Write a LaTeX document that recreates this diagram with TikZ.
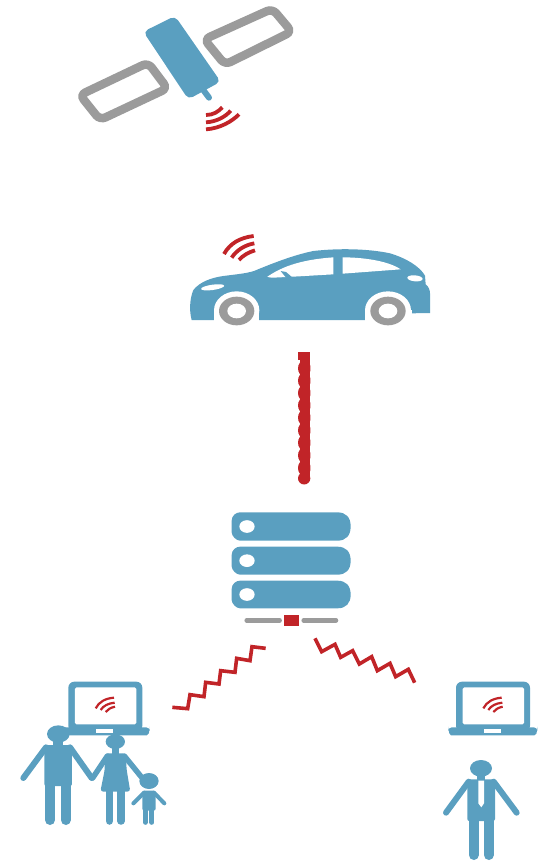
\documentclass[tikz,border=0pt]{standalone}
\definecolor{bl}{HTML}{5A9FC0}
\definecolor{rd}{HTML}{C12428}
\definecolor{gy}{HTML}{9B9B9B}
\tikzset{
 zone/.style 2 args={shift={(#1,#2)},scale=0.33333},
 wifi/.style={draw=rd,line width=3.8pt},
 wifismall/.style={draw=rd,line width=2.2pt},
 zig/.style={draw=rd,line width=3.6pt,line join=miter},
 limb/.style={draw=bl,line cap=round,line width=#1},
 panel/.style={draw=gy,line width=8.5pt,rounded corners=6pt},
}
\newcommand{\laptopat}[2]{%
 \begin{scope}[zone={#1}{#2}]
  \fill[bl,rounded corners=6pt] (0,0) rectangle (222,150);
  \fill[white,rounded corners=1.5pt] (20,17) rectangle (204,128);
  \fill[bl,rounded corners=3.5pt] (-23,137) -- (244,137) -- (244,145) .. controls (240,161) and (230,161) .. (225,161) -- (-5,161) .. controls (-15,161) and (-20,155) .. (-23,145) -- cycle;
  \fill[white] (84,142) rectangle (135,154);
  \draw[wifismall] (82,80) .. controls (92,60) and (112,50) .. (137,48);
  \draw[wifismall] (97,85) .. controls (105,72) and (120,65) .. (139,63);
  \draw[wifismall] (112,91) .. controls (118,83) and (127,78) .. (140,75);
 \end{scope}}
\begin{document}
\begin{tikzpicture}[x=1pt,y=-1pt]
\useasboundingbox (0,0) rectangle (547,862);
% satellite
\begin{scope}[zone={60}{0}]
 \draw[panel] (60,285) -- (264,188) -- (322,265) -- (120,360) -- cycle;
 \draw[panel] (433,118) -- (637,26) -- (695,95) -- (495,194) -- cycle;
 \draw[limb=6pt] (430,270) -- (447,293);
 \fill[bl,rounded corners=5pt] (250,95) -- (345,48) -- (482,245) -- (385,298) -- cycle;
 \draw[wifi] (438,345) .. controls (460,345) and (475,335) .. (487,322);
 \draw[wifi] (438,367) .. controls (470,365) and (497,350) .. (512,332);
 \draw[wifi] (438,388) .. controls (480,385) and (515,365) .. (537,343);
\end{scope}
% car
\begin{scope}[zone={180}{225}]
 \fill[bl] (35,285) .. controls (28,260) and (28,225) .. (40,195)
   .. controls (60,170) and (95,158) .. (130,153)
   .. controls (170,148) and (200,145) .. (222,138)
   .. controls (270,118) and (340,90) .. (400,78)
   .. controls (470,70) and (560,70) .. (630,85)
   .. controls (680,100) and (720,125) .. (735,152)
   -- (737,178) .. controls (745,183) and (750,195) .. (750,205)
   -- (750,264) -- (693,265) -- (693,285) -- cycle;
 \fill[white] (170,256) ellipse [x radius=68,y radius=57];
 \fill[white] (624,256) ellipse [x radius=69,y radius=57];
 \fill[white] (102,256) rectangle (238,290);
 \fill[white] (555,256) rectangle (696,290);
 \fill[gy] (170,258) ellipse [x radius=53,y radius=43];
 \fill[white] (170,258) ellipse [x radius=28,y radius=22];
 \fill[gy] (624,258) ellipse [x radius=53,y radius=43];
 \fill[white] (624,258) ellipse [x radius=28,y radius=22];
 \fill[white] (262,155) .. controls (300,130) and (350,105) .. (460,97) -- (460,148) -- (340,155) -- (280,158) .. controls (270,158) and (265,157) .. (262,155) -- cycle;
 \fill[bl] (302,138) -- (318,141) -- (337,157) -- (318,158) -- cycle;
 \fill[white] (488,97) .. controls (540,97) and (620,105) .. (662,133) -- (488,146) -- cycle;
 \fill[white,rotate around={8:(98,187)}] (98,187) ellipse [x radius=35,y radius=8];
 \fill[white,rotate around={-5:(705,160)}] (705,160) ellipse [x radius=23,y radius=9];
 \draw[wifi] (132,87) .. controls (150,55) and (180,38) .. (221,33);
 \draw[wifi] (155,98) .. controls (170,75) and (195,60) .. (223,55);
 \draw[wifi] (177,105) .. controls (188,92) and (205,82) .. (225,76);
\end{scope}
% link and server
\begin{scope}[zone={220}{340}]
 \begin{scope}
  \clip (230,36) rectangle (271,440);
  \fill[rd] (240,36) rectangle (271,415);
  \fill[rd] (234,36) rectangle (262,60);
  \foreach \yy in {85,122,159,196,233,271,308,346,384}{\fill[rd] (253,\yy) ellipse [x radius=19,y radius=24];}
  \fill[rd] (252.5,415) circle (18.5);
 \end{scope}
 \foreach \yt/\yb in {517/602,620/704,722/805}{
  \fill[bl] (60,\yt) -- (352,\yt) .. controls (378,\yt) and (392,\yt+15) .. (392,\yt+42) .. controls (392,\yb-15) and (378,\yb) .. (352,\yb) -- (60,\yb) .. controls (48,\yb) and (35,\yb-15) .. (35,\yb-25) -- (35,\yt+25) .. controls (35,\yt+10) and (48,\yt) .. (60,\yt) -- cycle;
  \fill[white] (81,\yt*0.5+\yb*0.5) ellipse [x radius=23,y radius=19];
 }
 \draw[limb=4.5pt,gy] (80,841) -- (179,841);
 \draw[limb=4.5pt,gy] (251,841) -- (348,841);
 \fill[rd] (192,825) rectangle (237,858);
\end{scope}
% left zigzag, laptop and family
\laptopat{68.33}{681.67}
\begin{scope}[zone={10}{640}]
 \draw[zig] (487,202) -- (533,206) -- (540,164) -- (582,170) -- (587,127) -- (627,132) -- (632,92) -- (675,97) -- (680,55) -- (720,62) -- (726,20) -- (767,25);
 % father
 \fill[bl] (145,282) ellipse [x radius=34,y radius=26];
 \fill[bl] (130,300) rectangle (160,320);
 \fill[bl,rounded corners=2pt] (103,315) rectangle (186,438);
 \draw[limb=6pt] (108,322) -- (40,414);
 \draw[limb=6pt] (180,322) -- (245,414);
 \draw[limb=10pt] (120,435) -- (120,540);
 \draw[limb=10pt] (167,435) -- (167,540);
 % mother
 \fill[bl] (316,305) ellipse [x radius=29,y radius=22];
 \fill[bl] (306,320) rectangle (326,345);
 \fill[bl,rounded corners=3pt] (285,340) -- (347,340) -- (350,390) -- (361,455) -- (271,455) -- (284,390) -- cycle;
 \draw[limb=5.5pt] (292,348) -- (248,414);
 \draw[limb=5.5pt] (343,348) -- (395,412);
 \draw[limb=7.5pt] (298,450) -- (298,543);
 \draw[limb=7.5pt] (333,450) -- (333,543);
 % child
 \fill[bl] (417,423) ellipse [x radius=29,y radius=24];
 \fill[bl,rounded corners=2pt] (397,452) rectangle (437,512);
 \draw[limb=4pt] (402,458) -- (370,490);
 \draw[limb=4pt] (432,458) -- (463,490);
 \draw[limb=5pt] (406,510) -- (406,547);
 \draw[limb=5pt] (426,510) -- (426,547);
\end{scope}
% right zigzag, laptop and man
\laptopat{456}{681.67}
\begin{scope}[zone={300}{630}]
 \draw[zig] (45,25) -- (65,65) -- (105,43) -- (122,82) -- (158,62) -- (178,102) -- (215,80) -- (232,122) -- (270,100) -- (287,140) -- (325,118) -- (344,158);
 \fill[bl] (543,415) ellipse [x radius=33,y radius=25];
 \fill[bl] (530,430) rectangle (556,455);
 \fill[bl,rounded corners=2pt] (502,448) rectangle (585,573);
 \draw[limb=6pt] (506,455) -- (438,548);
 \draw[limb=6pt] (581,455) -- (650,548);
 \draw[limb=10pt] (521,570) -- (521,675);
 \draw[limb=10pt] (566,570) -- (566,675);
 \fill[white] (535,452) -- (552,452) -- (552,520) -- (544,532) -- (535,520) -- cycle;
\end{scope}
\end{tikzpicture}
\end{document}
